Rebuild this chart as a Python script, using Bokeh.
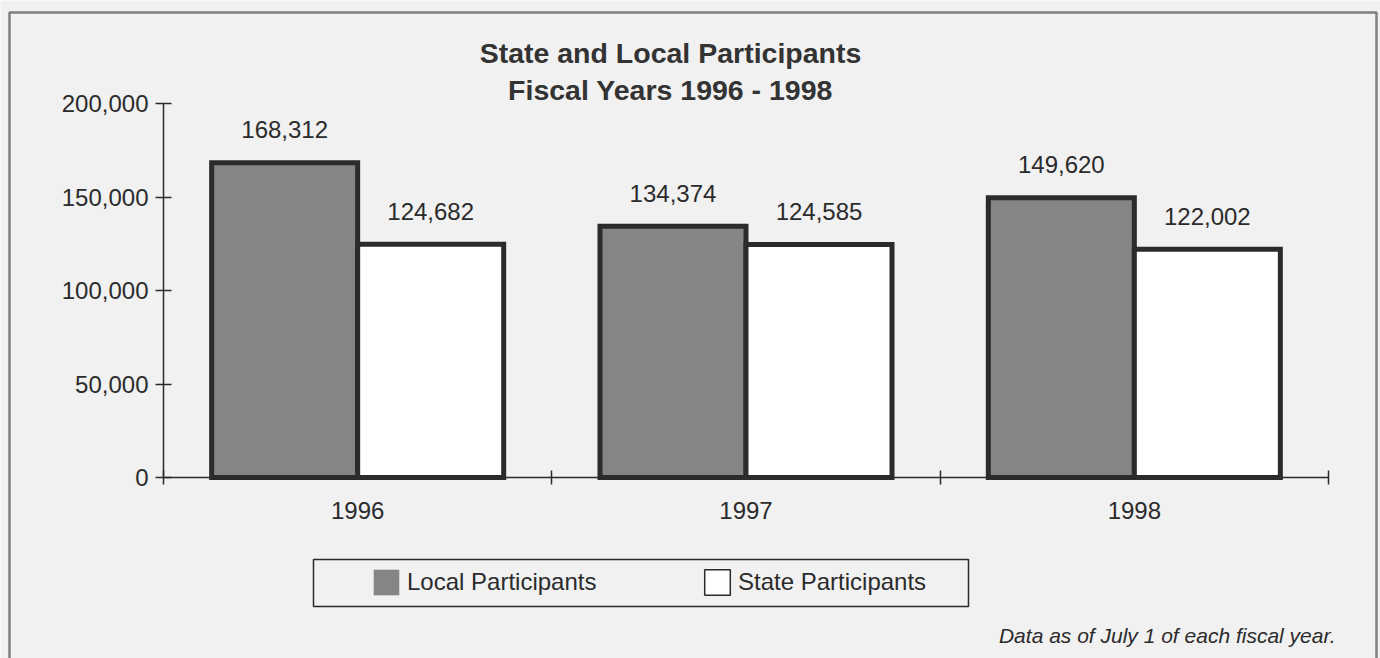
from bokeh.plotting import figure
from bokeh.models import (ColumnDataSource, FixedTicker, NumeralTickFormatter, Label,
                          BoxAnnotation, Legend, LegendItem, LinearAxis, Range1d)
from bokeh.transform import dodge
from bokeh.embed import file_html
from bokeh.resources import INLINE
from bokeh.core.properties import value

# ---------------- data ----------------
years = ["1996", "1997", "1998"]
local_participants = [168312, 134374, 149620]
state_participants = [124682, 124585, 122002]
y_ticks = [0, 50000, 100000, 150000, 200000]
title_lines = ["State and Local Participants", "Fiscal Years 1996 - 1998"]
series_names = ["Local Participants", "State Participants"]
footnote = "Data as of July 1 of each fiscal year."

# ---------------- layout (pixel geometry of the plotting area) ----------------
W, H = 1380, 658
FL, FR, FT, FB = 163, 1328, 103, 477
YMAX = y_ticks[-1]
NCAT = len(years)


def dx(px):
    return (px - FL) * NCAT / (FR - FL)


def dy(py):
    return (FB - py) * YMAX / (FB - FT)


PAPER = "#f1f1f1"
INK = "#2b2b2b"
LOCAL_FILL = "#858585"
FONTNAME = "Liberation Sans"
FONT = value(FONTNAME)
BW = 0.376
NAN = float("nan")

# the frame covers the whole canvas; axes are pinned with fixed_location
p = figure(width=W, height=H, output_backend="svg", toolbar_location=None,
           x_range=Range1d(dx(0), dx(W)), y_range=Range1d(dy(H), dy(0)),
           min_border=0, min_border_left=0, min_border_right=0,
           min_border_top=0, min_border_bottom=0,
           x_axis_type=None, y_axis_type=None)
p.background_fill_color = PAPER
p.border_fill_color = PAPER
p.outline_line_color = None

src = ColumnDataSource(dict(
    x=[i + 0.5 for i in range(NCAT)],
    local=local_participants,
    state=state_participants,
    local_lbl=[f"{v:,}" for v in local_participants],
    state_lbl=[f"{v:,}" for v in state_participants],
))

p.vbar(x=dodge("x", -BW / 2), top="local", width=BW, source=src,
       fill_color=LOCAL_FILL, line_color=INK, line_width=5, line_join="miter")
p.vbar(x=dodge("x", BW / 2), top="state", width=BW, source=src,
       fill_color="white", line_color=INK, line_width=5, line_join="miter")

p.text(x=dodge("x", -BW / 2), y="local", text="local_lbl", source=src,
       text_align="center", text_baseline="alphabetic", y_offset=-33,
       text_font=FONT, text_font_size="24px", text_color=INK)
p.text(x=dodge("x", BW / 2), y="state", text="state_lbl", source=src,
       text_align="center", text_baseline="alphabetic", y_offset=-33,
       text_font=FONT, text_font_size="24px", text_color=INK)

# axes
yaxis = LinearAxis(ticker=FixedTicker(ticks=y_ticks),
                   formatter=NumeralTickFormatter(format="0,0"),
                   fixed_location=0, bounds=(0, YMAX),
                   major_tick_in=8, major_tick_out=8,
                   minor_tick_in=0, minor_tick_out=0,
                   axis_line_color=INK, axis_line_width=1.5,
                   major_tick_line_color=INK, major_tick_line_width=1.5,
                   major_label_text_font=FONTNAME, major_label_text_font_size="24px",
                   major_label_text_color=INK, major_label_standoff=7)
p.add_layout(yaxis, "left")

centers = [i + 0.5 for i in range(NCAT)]
xaxis = LinearAxis(ticker=FixedTicker(ticks=centers, minor_ticks=list(range(NCAT + 1))),
                   major_label_overrides={c: y for c, y in zip(centers, years)},
                   fixed_location=0, bounds=(0, NCAT),
                   major_tick_in=0, major_tick_out=0,
                   minor_tick_in=7, minor_tick_out=7,
                   axis_line_color=INK, axis_line_width=1.5,
                   minor_tick_line_color=INK, minor_tick_line_width=1.5,
                   major_label_text_font=FONTNAME, major_label_text_font_size="24px",
                   major_label_text_color=INK, major_label_standoff=17)
p.add_layout(xaxis, "below")

# outer frame
p.add_layout(BoxAnnotation(left=dx(9), right=dx(1376), top=dy(12), bottom=dy(720),
                           fill_alpha=0, line_color="#808080", line_alpha=1, line_width=2.5))

# titles
for i, t in enumerate(title_lines):
    p.add_layout(Label(x=dx(670), y=dy(52 + 37 * i), text=t, text_align="center",
                       text_baseline="alphabetic", text_font=FONTNAME, text_font_style="bold",
                       text_font_size="28.5px", text_color="#333333"))

# footnote
p.add_layout(Label(x=dx(1335), y=dy(635), text=footnote, text_align="right",
                   text_baseline="alphabetic", text_font=FONTNAME, text_font_style="italic",
                   text_font_size="21px", text_color=INK))

# legend box
p.add_layout(BoxAnnotation(left=dx(313), right=dx(968), top=dy(559), bottom=dy(606),
                           fill_alpha=0, line_color=INK, line_alpha=1, line_width=1.5))

leg_local = p.vbar(x=[NAN], top=[NAN], width=0.1, fill_color=LOCAL_FILL, line_color=None)
leg_state = p.vbar(x=[NAN], top=[NAN], width=0.1, fill_color="white",
                   line_color=INK, line_width=1.5)

for name, r, gx in [(series_names[0], leg_local, 370), (series_names[1], leg_state, 701)]:
    lg = Legend(items=[LegendItem(label=name, renderers=[r])],
                location=(gx, H - 598), padding=0, margin=0,
                border_line_color=None, background_fill_alpha=0,
                glyph_width=32, glyph_height=32, label_standoff=5,
                label_text_font=FONTNAME, label_text_font_size="24px", label_text_color=INK)
    p.add_layout(lg)

open("out.html", "w").write(file_html(p, INLINE))
